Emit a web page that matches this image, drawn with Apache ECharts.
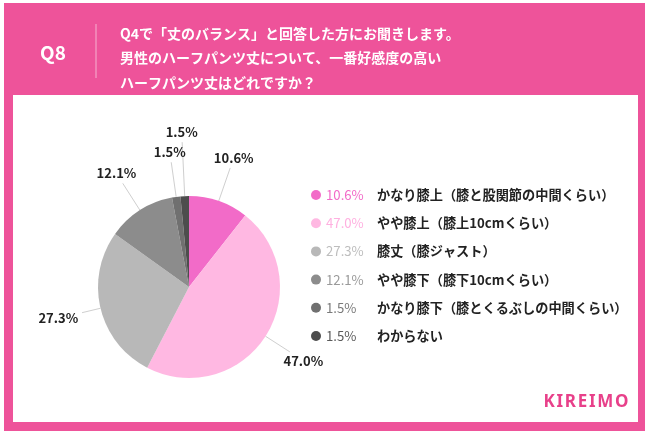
<!DOCTYPE html>
<html>
<head>
<meta charset="utf-8">
<script src="https://cdn.jsdelivr.net/npm/echarts@6/dist/echarts.min.js"></script>
<style>html,body{margin:0;padding:0;background:#fff}#c{width:650px;height:437px}</style>
</head>
<body>
<div id="c"></div>
<script>
var categories = ['かなり膝上（膝と股関節の中間くらい）','やや膝上（膝上10cmくらい）','膝丈（膝ジャスト）','やや膝下（膝下10cmくらい）','かなり膝下（膝とくるぶしの中間くらい）','わからない'];
var values = [10.6, 47.0, 27.3, 12.1, 1.5, 1.5];
var questionNo = 'Q8';
var titleLines = ['Q4で「丈のバランス」と回答した方にお聞きします。','男性のハーフパンツ丈について、一番好感度の高い','ハーフパンツ丈はどれですか？'];
var brand = 'KIREIMO';

var colors = ['#f26bc8','#ffb8e2','#b8b8b8','#8c8c8c','#707070','#4d4d4d'];
var pctColors = ['#f26bc8','#ffb0e0','#bdbdbd','#9a9a9a','#7a7a7a','#5a5a5a'];
var lineLens = [35, 29, 19, 32, 35, 54];
var FONT = '"Noto Sans CJK JP", "Noto Sans", sans-serif';
var PINK = '#ee539a';

var chart = echarts.init(document.getElementById('c'));
var rich = { n: { fontFamily: FONT, fontSize: 13.2, fontWeight: 'bold', color: '#222', lineHeight: 18 } };
for (var i = 0; i < categories.length; i++) {
  rich['p' + i] = { fontFamily: FONT, fontSize: 13.2, color: pctColors[i], width: 51, lineHeight: 18 };
}
var data = categories.map(function (c, i) {
  return { name: c, value: values[i], itemStyle: { color: colors[i] }, labelLine: { length: lineLens[i], length2: 0 } };
});

var graphics = [
  { type: 'rect', shape: { x: 4, y: 3, width: 641, height: 428 }, style: { fill: PINK }, z: -10 },
  { type: 'rect', shape: { x: 13, y: 95, width: 625, height: 327 }, style: { fill: '#fff' }, z: -9 },
  { type: 'line', shape: { x1: 96, y1: 24, x2: 96, y2: 78 }, style: { stroke: 'rgba(255,255,255,0.55)', lineWidth: 1 }, z: -8 },
  { type: 'text', x: 53, y: 53, style: { text: questionNo, fill: '#fff', font: 'bold 19px ' + FONT, textAlign: 'center', textVerticalAlign: 'middle' } },
  { type: 'text', x: 586, y: 402, style: { text: brand.split('').join('\u200A'), fill: '#e8408a', font: 'bold 17px "Noto Sans", sans-serif', textAlign: 'center', textVerticalAlign: 'middle' } }
];
titleLines.forEach(function (t, i) {
  graphics.push({ type: 'text', x: 120, y: 33.5 + i * 24.5, style: { text: t, fill: '#fff', font: 'bold 14px ' + FONT, textAlign: 'left', textVerticalAlign: 'middle' } });
});

chart.setOption({
  animation: false,
  graphic: graphics,
  legend: {
    orient: 'vertical', left: 306, top: 181, itemWidth: 10, itemHeight: 10, itemGap: 10.2,
    icon: 'circle', selectedMode: false,
    data: categories,
    textStyle: { rich: rich, lineHeight: 18 },
    formatter: function (name) {
      var i = categories.indexOf(name);
      return '{p' + i + '|' + values[i].toFixed(1) + '%}{n|' + name + '}';
    }
  },
  series: [{
    type: 'pie', center: [189, 287], radius: 91, startAngle: 90, clockwise: true,
    avoidLabelOverlap: false,
    data: data,
    label: {
      show: true, position: 'outside', fontFamily: FONT, fontSize: 13, fontWeight: 'bold', color: '#222',
      formatter: function (p) { return p.value.toFixed(1) + '%'; }
    },
    labelLine: { show: true, lineStyle: { color: '#cfcfcf', width: 1 } },
    labelLayout: function (p) {
      var pts = p.labelLinePoints;
      if (!pts) return {};
      var a = pts[0], b = pts[pts.length - 1];
      var dx = b[0] - a[0], dy = b[1] - a[1];
      var L = Math.sqrt(dx * dx + dy * dy) || 1; dx /= L; dy /= L;
      var hw = p.labelRect.width / 2, hh = p.labelRect.height / 2;
      var t = Math.min(hw / Math.max(Math.abs(dx), 1e-6), hh / Math.max(Math.abs(dy), 1e-6));
      var pad = 4;
      return { x: b[0] + dx * (t + pad), y: b[1] + dy * (t + pad), align: 'center', verticalAlign: 'middle', labelLinePoints: pts };
    },
    emphasis: { disabled: true }
  }]
});
</script>
</body>
</html>
